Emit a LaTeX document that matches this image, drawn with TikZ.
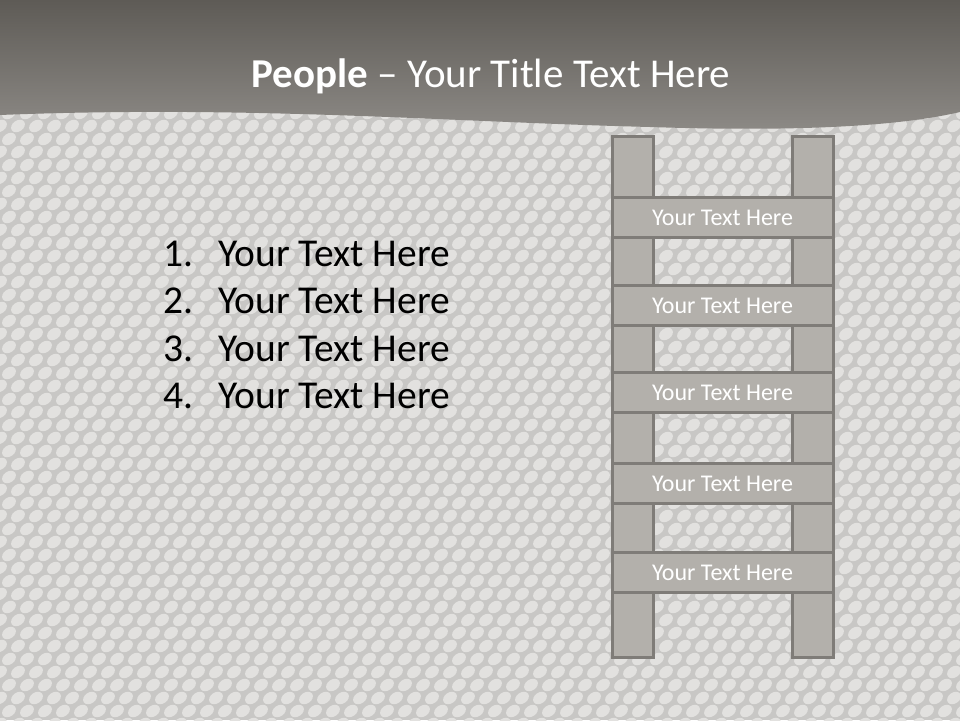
\documentclass[tikz,border=0pt]{standalone}
\usepackage{fontspec}
\setmainfont{Carlito}
\definecolor{bgc}{HTML}{C8C7C5}
\definecolor{scalec}{HTML}{E2E1DF}
\definecolor{hdtop}{HTML}{5E5B56}
\definecolor{hdbot}{HTML}{8D8A86}
\definecolor{rungfill}{HTML}{B3B0AB}
\definecolor{rungdraw}{HTML}{7F7C78}
\begin{document}
\begin{tikzpicture}[x=1pt,y=-1pt,
  rail/.style={draw=rungdraw,fill=rungfill,line width=3pt,minimum width=41pt,minimum height=521pt,inner sep=0pt},
  rung/.style={draw=rungdraw,fill=rungfill,line width=3pt,minimum width=221pt,minimum height=40pt,inner sep=0pt,text=white,font=\fontsize{24}{29}\selectfont},
  item/.style={anchor=base west,inner sep=0pt,text=black,font=\fontsize{39.5}{47}\selectfont}]
\useasboundingbox (0,0) rectangle (960,720);
% background
\fill[bgc] (0,0) rectangle (960,720);
\foreach \j in {0,...,48}{
  \foreach \i in {0,...,55}{
    \fill[scalec,rotate around={35:({\i*18+mod(\j,2)*9},{100+\j*13})}] ({\i*18+mod(\j,2)*9},{100+\j*13}) ellipse [x radius=7.5pt, y radius=5.5pt];
  }
}
% header
\shade[top color=hdtop,bottom color=hdbot]
  (0,0) -- (960,0) -- (960,112)
  .. controls (900,126) and (800,132) .. (650,127)
  .. controls (450,122) and (250,105) .. (0,115) -- cycle;
\node[anchor=base,text=white,inner sep=0pt,font=\fontsize{41}{49}\selectfont] (title) at (491,87) {\textbf{People} – Your Title Text Here};
% ladder
\node[rail] (railL) at (632.5,396.5) {};
\node[rail] (railR) at (812.5,396.5) {};
\node[rung] (r1) at (722.5,217.5) {Your Text Here};
\node[rung] (r2) at (722.5,305.5) {Your Text Here};
\node[rung] (r3) at (722.5,392.5) {Your Text Here};
\node[rung] (r4) at (722.5,483.5) {Your Text Here};
\node[rung] (r5) at (722.5,572.5) {Your Text Here};
% list
\node[item] (n1) at (163,266) {1.};
\node[item] (t1) at (218,266) {Your Text Here};
\node[item] (n2) at (163,313.5) {2.};
\node[item] (t2) at (218,313.5) {Your Text Here};
\node[item] (n3) at (163,361) {3.};
\node[item] (t3) at (218,361) {Your Text Here};
\node[item] (n4) at (163,408.5) {4.};
\node[item] (t4) at (218,408.5) {Your Text Here};
\end{tikzpicture}
\end{document}
